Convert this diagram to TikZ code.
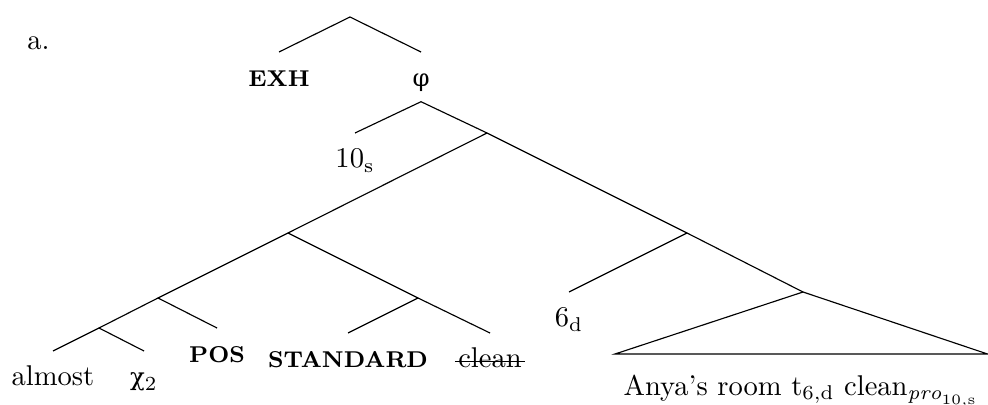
\documentclass[tikz,border=0pt]{standalone}
\usepackage{fontspec}
\newfontfamily\grk[Scale=0.85]{DejaVu Serif}
\begin{document}
\begin{tikzpicture}[x=0.35pt,y=-0.35pt,
  lf/.style={inner xsep=1pt, inner ysep=4pt, text height=8pt, text depth=2pt, anchor=north},
  scb/.style={font=\bfseries\footnotesize},
  br/.style={line width=0.4pt}]
\useasboundingbox (0,0) rectangle (988,405);
\node[anchor=base] (a) at (38.5,50) {a.};
% internal points
\coordinate (root) at (350,17);
\coordinate (X) at (487,133);
\coordinate (L1) at (288,233);
\coordinate (Y) at (687,233);
\coordinate (Z) at (803,292);
\coordinate (L2) at (158,298);
\coordinate (R) at (418,298);
\coordinate (L3) at (99,328);
\coordinate (tl) at (615,354);
\coordinate (tr) at (987.5,354);
% labelled nodes
\node[lf,scb] (exh) at (279,52) {EXH};
\node[lf,text depth=1pt] (phi) at (421,52) {\grk φ};
\node[lf] (ten) at (355,133) {10$_\mathrm{s}$};
\node[lf] (six) at (569,292) {6$_\mathrm{d}$};
\node[lf,scb] (pos) at (217,328) {POS};
\node[lf] (almost) at (53,351) {almost};
\node[lf] (chi) at (144,351) {{\grk χ}$_2$};
\node[lf,scb] (std) at (348,333) {STANDARD};
\node[lf] (clean) at (490,333) {clean};
\node[anchor=base] (anya) at (801,395) {Anya’s room t$_\mathrm{6,d}$ clean$_{\mathit{pro}_{\mathrm{10,s}}}$};
% branches
\draw[br] (root) -- (exh.north);
\draw[br] (root) -- (phi.north);
\draw[br] (phi.south) -- (ten.north);
\draw[br] (phi.south) -- (X);
\draw[br] (X) -- (L1);
\draw[br] (X) -- (Y);
\draw[br] (Y) -- (six.north);
\draw[br] (Y) -- (Z);
\draw[br] (Z) -- (tl) -- (tr) -- cycle;
\draw[br] (L1) -- (L2);
\draw[br] (L1) -- (R);
\draw[br] (L2) -- (L3);
\draw[br] (L2) -- (pos.north);
\draw[br] (L3) -- (almost.north);
\draw[br] (L3) -- (chi.north);
\draw[br] (R) -- (std.north);
\draw[br] (R) -- (clean.north);
\draw[br] ([yshift=2.2pt]clean.base west) -- ([yshift=2.2pt]clean.base east);
\end{tikzpicture}
\end{document}
